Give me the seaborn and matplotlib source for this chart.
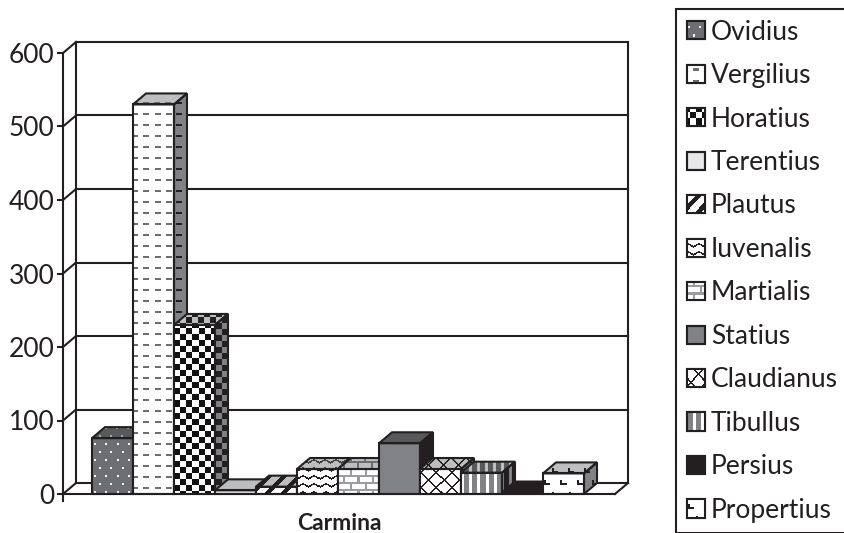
import numpy as np
import pandas as pd
import matplotlib
matplotlib.use("Agg")
import matplotlib.pyplot as plt
from matplotlib.patches import Polygon, Patch, Rectangle
from matplotlib.transforms import IdentityTransform
import seaborn as sns

authors = ["Ovidius", "Vergilius", "Horatius", "Terentius", "Plautus", "Iuvenalis",
           "Martialis", "Statius", "Claudianus", "Tibullus", "Persius", "Propertius"]
carmina = [76, 530, 230, 5, 10, 34, 34, 69, 34, 29, 2, 28]
y_ticks = [0, 100, 200, 300, 400, 500, 600]
category = "Carmina"

WIDTH, HEIGHT, DPI = 845, 533, 100
INK = "#231f20"

sns.set_theme(style="white")
plt.rcParams["font.family"] = ["Lato", "DejaVu Sans"]

fig = plt.figure(figsize=(WIDTH / DPI, HEIGHT / DPI), dpi=DPI, facecolor="white")
ax = fig.add_axes([63 / WIDTH, (HEIGHT - 494) / HEIGHT, 552 / WIDTH, 441 / HEIGHT])
ax.patch.set_alpha(0)

frame = pd.DataFrame({"author": authors, "poems": carmina})
sns.barplot(data=frame, x="author", y="poems", width=1.0, saturation=1,
            color="white", linewidth=0, ax=ax)

XLIM = (-1.207, 12.256)
YLIM = (0, 600)
DX = 13 / 41           # receding depth in category units
DY = 11 / (441 / 600)  # receding depth in value units


# Fill patterns, evaluated on the device pixel grid
yy, xx = np.mgrid[0:HEIGHT, 0:WIDTH]


def dots():
    a = (xx % 11 < 2) & (yy % 16 < 2)
    b = ((xx + 5) % 11 < 2) & ((yy + 8) % 16 < 2)
    return a | b


def dashes():
    return (xx % 11 < 6) & (yy % 11 < 2)


def checks():
    return ((xx // 6) + (yy // 6)) % 2 == 0


def stripes():
    return (xx - yy) % 15 < 6


def waves():
    w = 2.0 * np.abs(((xx % 11) / 5.5) - 1.0) * 1.6
    return (yy + w) % 8 < 1.7


def bricks():
    rows = yy % 7 < 2
    col = np.where((yy // 7) % 2 == 0, xx % 14, (xx + 7) % 14) < 2
    return rows | col


def lattice():
    return ((xx + yy) % 15 < 2) | ((xx - yy) % 15 < 2)


def columns():
    return xx % 8 < 5


def corners():
    row = yy // 12
    x = (xx + 8 * (row % 2)) % 16
    y = yy % 12
    return ((x < 2) & (y < 5)) | ((x < 6) & (y < 2))


def blank():
    return np.zeros_like(xx, dtype=bool)


patterns = [dots, dashes, checks, blank, stripes, waves, bricks, blank, lattice, columns, blank, corners]

# (background, ink) for the front, top and side of each bar
front_cols = [("#6d6e71", "#f1f2f2"), ("#ffffff", "#6d6e71"), ("#ffffff", "#111111"),
              ("#e6e7e8", "#e6e7e8"), ("#ffffff", "#231f20"), ("#ffffff", "#231f20"),
              ("#ffffff", "#9a9c9f"), ("#808285", "#808285"), ("#ffffff", "#231f20"),
              ("#ffffff", "#808285"), ("#231f20", "#231f20"), ("#ffffff", "#231f20")]
top_cols = [("#58595b", "#a7a9ac"), ("#bcbec0", "#6d6e71"), ("#bcbec0", "#231f20"),
            ("#bcbec0", "#bcbec0"), ("#bcbec0", "#231f20"), ("#bcbec0", "#414042"),
            ("#bcbec0", "#6d6e71"), ("#58595b", "#58595b"), ("#bcbec0", "#231f20"),
            ("#bcbec0", "#58595b"), ("#231f20", "#231f20"), ("#bcbec0", "#231f20")]
side_cols = [("#414042", "#808285"), ("#808285", "#231f20"), ("#808285", "#231f20"),
             ("#808285", "#808285"), ("#808285", "#231f20"), ("#808285", "#231f20"),
             ("#808285", "#414042"), ("#231f20", "#231f20"), ("#808285", "#231f20"),
             ("#808285", "#231f20"), ("#231f20", "#231f20"), ("#808285", "#231f20")]


def texture(mask, colors):
    bg = np.array(matplotlib.colors.to_rgb(colors[0]))
    fg = np.array(matplotlib.colors.to_rgb(colors[1]))
    return np.where(mask[..., None], fg, bg)


def paint(mask, colors, clip_patch, zorder):
    im = ax.imshow(texture(mask, colors), extent=(0, WIDTH, 0, HEIGHT), origin="lower",
                   aspect="auto", interpolation="nearest", transform=IdentityTransform(),
                   zorder=zorder)
    im.set_clip_box(fig.bbox)
    im.set_clip_path(clip_patch)
    return im


# Receding back wall, floor and gridlines
line_kw = dict(color=INK, lw=1.5, clip_on=False, zorder=2, solid_capstyle="projecting")
xl, xr = XLIM
for t in y_ticks:
    ax.plot([xl, xl + DX], [t, t + DY], **line_kw)
    ax.plot([xl + DX, xr + DX], [t + DY, t + DY], **line_kw)
ax.plot([xl + DX, xl + DX], [DY, 600 + DY], **line_kw)
ax.plot([xr + DX, xr + DX], [DY, 600 + DY], **line_kw)
ax.plot([xr, xr + DX], [0, DY], **line_kw)

# Bars: seaborn's rectangle is the front face; top and side faces extend it backwards
for i, bar in enumerate(ax.patches[:len(authors)]):
    base = 3 + i
    x0, x1 = bar.get_x(), bar.get_x() + bar.get_width()
    v = bar.get_height()
    mask = patterns[i]()

    top = Polygon([(x0, v), (x1, v), (x1 + DX, v + DY), (x0 + DX, v + DY)], closed=True,
                  facecolor=top_cols[i][0], edgecolor="none", clip_on=False, zorder=base)
    side = Polygon([(x1, 0), (x1 + DX, DY), (x1 + DX, v + DY), (x1, v)], closed=True,
                   facecolor=side_cols[i][0], edgecolor="none", clip_on=False, zorder=base)
    ax.add_patch(top)
    ax.add_patch(side)
    bar.set_facecolor(front_cols[i][0])
    bar.set_zorder(base)

    paint(mask, top_cols[i], top, base + 0.1)
    paint(mask, side_cols[i], side, base + 0.1)
    paint(mask, front_cols[i], bar, base + 0.1)

    for corners_xy in (top.get_xy(), side.get_xy(),
                       [(x0, 0), (x1, 0), (x1, v), (x0, v)]):
        ax.add_patch(Polygon(corners_xy, closed=True, facecolor="none", edgecolor=INK,
                             lw=1.5, clip_on=False, zorder=base + 0.2, joinstyle="miter"))

ax.set_xlim(*XLIM)
ax.set_ylim(*YLIM)

# Front axes
sns.despine(ax=ax, top=True, right=True)
for name in ("left", "bottom"):
    ax.spines[name].set_color(INK)
    ax.spines[name].set_linewidth(1.5)
    ax.spines[name].set_zorder(30)
ax.set_yticks(y_ticks)
ax.set_xticks([XLIM[0]])
ax.set_xticklabels([""])
ax.tick_params(axis="y", length=4, width=1.5, color=INK, labelsize=19, labelcolor=INK, pad=2,
               left=True)
ax.tick_params(axis="x", length=6, width=1.5, color=INK, bottom=True)
ax.set_ylabel("")
ax.set_xlabel(category, fontsize=16.5, fontweight="bold", color=INK, va="baseline")
ax.xaxis.set_label_coords(0.5, -(530 - 494) / 441)

# Legend with the same fills on its swatches
handles = [Patch(facecolor=front_cols[i][0], edgecolor=INK, linewidth=1.5, label=a)
           for i, a in enumerate(authors)]
leg = ax.legend(handles=handles, loc="upper left", bbox_to_anchor=(676 / WIDTH, 1 - 9 / HEIGHT),
                bbox_transform=fig.transFigure, fontsize=19, frameon=True, fancybox=False,
                edgecolor=INK, facecolor="white", framealpha=1, borderaxespad=0, borderpad=0.4,
                handlelength=0.68, handleheight=0.68, handletextpad=0.25, labelspacing=0.7,
                labelcolor=INK)
leg.get_frame().set_linewidth(1.5)
leg.set_zorder(40)
for i, h in enumerate(leg.get_patches()):
    if patterns[i] is not blank:
        paint(patterns[i](), front_cols[i], h, 41)
    # outline goes back on top of the swatch fill
    ax.add_artist(Rectangle((h.get_x(), h.get_y()), h.get_width(), h.get_height(),
                            transform=h.get_data_transform(), fill=False, edgecolor=INK,
                            lw=1.5, clip_on=False, zorder=42))

ax.set_xlim(*XLIM)
ax.set_ylim(*YLIM)

fig.savefig("out.png", dpi=DPI)
